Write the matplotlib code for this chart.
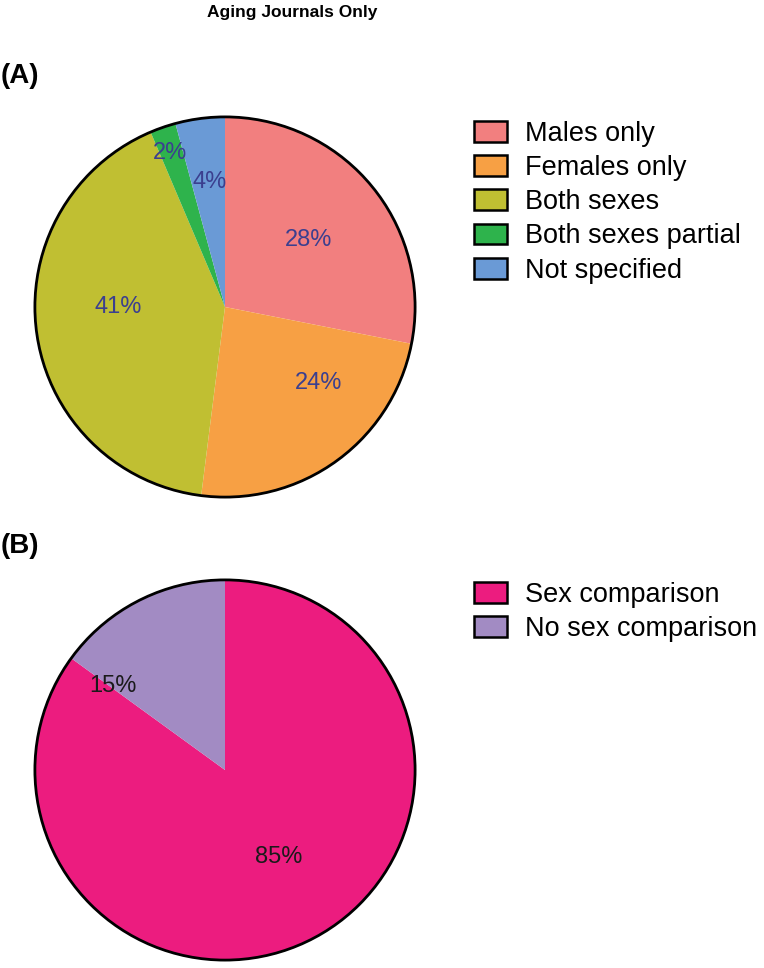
import numpy as np
import matplotlib.pyplot as plt
from matplotlib.patches import Patch, Circle

plt.rcParams['font.family'] = ['Liberation Sans', 'DejaVu Sans']

# panel A data
labels_a = ["Males only", "Females only", "Both sexes", "Both sexes partial", "Not specified"]
values_a = [28.1, 23.9, 41.6, 2.2, 4.2]
pct_a = ["28%", "24%", "41%", "2%", "4%"]
colors_a = ["#F27F7F", "#F7A044", "#C0BF32", "#2EB34C", "#6A9AD6"]
label_pos_a = [(0.44, 0.35), (0.49, -0.40), (-0.56, 0.0), (-0.29, 0.81), (-0.08, 0.66)]

# panel B data
labels_b = ["Sex comparison", "No sex comparison"]
values_b = [85.0, 15.0]
pct_b = ["85%", "15%"]
colors_b = ["#EC1C7F", "#A28BC3"]
label_pos_b = [(0.28, -0.46), (-0.59, 0.44)]

W, H = 764, 968
fig = plt.figure(figsize=(W / 100, H / 100), dpi=100)


def pie_panel(rect, values, colors, pcts, pos, txtcolor):
    ax = fig.add_axes(rect)
    ax.pie(values, colors=colors, startangle=90, counterclock=False,
           radius=1, wedgeprops=dict(linewidth=0))
    ax.add_patch(Circle((0, 0), 1, fill=False, edgecolor='black', lw=2, zorder=5))
    for t, (x, y) in zip(pcts, pos):
        ax.text(x, y, t, ha='center', va='center', fontsize=17, color=txtcolor)
    ax.set_xlim(-1.01, 1.01)
    ax.set_ylim(-1.01, 1.01)
    ax.set_aspect('equal')
    ax.axis('off')
    return ax


def legend(labels, colors, top):
    handles = [Patch(facecolor=c, edgecolor='black', linewidth=1.8) for c in colors]
    fig.legend(handles, labels, loc='upper left',
               bbox_to_anchor=(474 / W, 1 - top / H), frameon=False,
               fontsize=19.5, handlelength=1.22, handleheight=0.81,
               handletextpad=0.67, labelspacing=0.3, borderpad=0,
               borderaxespad=0)


pie_panel([33 / W, 1 - 499 / H, 384 / W, 384 / H], values_a, colors_a,
          pct_a, label_pos_a, "#3B3F8F")
pie_panel([33 / W, 1 - 962 / H, 384 / W, 384 / H], values_b, colors_b,
          pct_b, label_pos_b, "#1A1A1A")

legend(labels_a, colors_a, 121)
legend(labels_b, colors_b, 582)

fig.text(292 / W, 1 - 12 / H, "Aging Journals Only", ha='center', va='center',
         fontsize=12.5, fontweight='bold')
fig.text(1 / W, 1 - 76 / H, "(A)", ha='left', va='center', fontsize=20,
         fontweight='bold')
fig.text(1 / W, 1 - 546 / H, "(B)", ha='left', va='center', fontsize=20,
         fontweight='bold')

fig.savefig("out.png", dpi=100)
